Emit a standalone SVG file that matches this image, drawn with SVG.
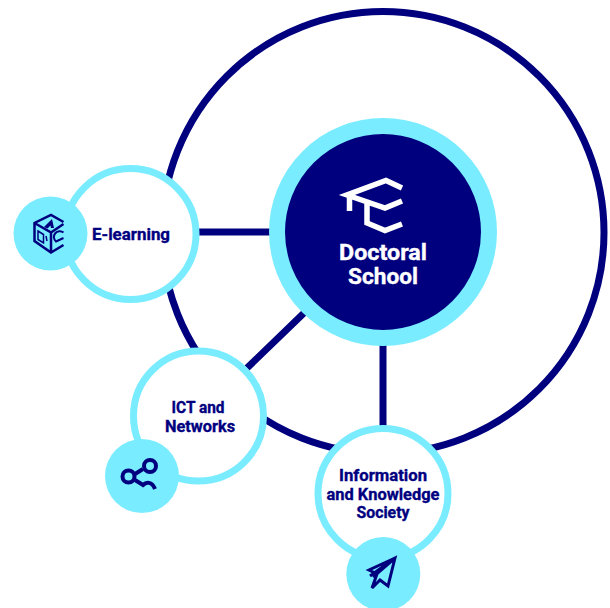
<svg xmlns="http://www.w3.org/2000/svg" width="610" height="608" viewBox="0 0 610 608">
<style>
.navy{fill:none;stroke:#00007f;stroke-width:7}
.sat{fill:#fff;stroke:#7aecff;stroke-width:7}
.badge{fill:#7aecff}
.ico{fill:none;stroke:#00007f;stroke-width:2.5;stroke-linejoin:miter}
text{font-family:Roboto,"Liberation Sans",sans-serif;font-weight:700;fill:#00007f;stroke:#00007f;stroke-width:.35;text-anchor:middle;font-size:16px}
text.big{font-size:22px;fill:#fff;stroke:#fff}
</style>
<g id="connectors">
<circle class="navy" cx="383" cy="232.5" r="221"/>
<path class="navy" d="M198 232H275M247 368L305 312M383 340V428"/>
</g>
<g id="doctoral-school">
<circle cx="383" cy="232" r="106" fill="#00007f" stroke="#7aecff" stroke-width="16"/>
<path d="M402 188L386 180.500L347 195L385 208L402 201M349.500 195V211M367 204V223L385 230.500L402 224" fill="none" stroke="#fff" stroke-width="5.500"/>
<text class="big" x="383" y="260" textLength="88" lengthAdjust="spacingAndGlyphs">Doctoral</text>
<text class="big" x="383" y="284" textLength="70" lengthAdjust="spacingAndGlyphs">School</text>
</g>
<g id="e-learning">
<circle class="sat" cx="130.500" cy="234" r="65.500"/>
<circle class="badge" cx="50.500" cy="233.500" r="37"/>
<path class="ico" d="M63.500 222L51 215L34.500 223V241L51 252.500L63.500 245M34.500 223L51 232.500V252.500M51 232.500L63.500 224"/>
<path d="M44 227L52 219L54 228L51 228L50.500 225.500L47.500 228.500Z" fill="#00007f"/>
<path d="M38 231L43.500 234.500V243L38 239.500Z" class="ico" style="stroke-width:1.500"/>
<path d="M46 236L47 241" class="ico" style="stroke-width:1.500"/>
<path d="M63.500 232.500A5 5 0 0 0 56 241.500L63.500 238" class="ico" style="stroke-width:2"/>
<text x="131" y="240" textLength="78" lengthAdjust="spacingAndGlyphs">E-learning</text>
</g>
<g id="ict-networks">
<circle class="sat" cx="198.500" cy="416" r="65"/>
<circle class="badge" cx="142" cy="476" r="37"/>
<path d="M135 474L143 469M135 480L143 485C146 482 152 481 155 489" fill="none" stroke="#00007f" stroke-width="4"/>
<circle cx="128.500" cy="476.500" r="6" fill="none" stroke="#00007f" stroke-width="4"/>
<circle cx="150" cy="466" r="6" fill="none" stroke="#00007f" stroke-width="4"/>
<text x="198" y="412.500" textLength="53" lengthAdjust="spacingAndGlyphs">ICT and</text>
<text x="200" y="431.500" textLength="70" lengthAdjust="spacingAndGlyphs">Networks</text>
</g>
<g id="information-knowledge">
<circle class="sat" cx="383" cy="493.500" r="65"/>
<circle class="badge" cx="383.300" cy="574" r="37"/>
<path d="M395 558L369 570L377 574L372 588L380 580L388 586ZM395 558L373 577M395 558L370 576" fill="none" stroke="#00007f" stroke-width="3"/>
<text x="383" y="481" textLength="88" lengthAdjust="spacingAndGlyphs">Information</text>
<text x="383" y="499.500" textLength="113" lengthAdjust="spacingAndGlyphs">and Knowledge</text>
<text x="383" y="518" textLength="53" lengthAdjust="spacingAndGlyphs">Society</text>
</g>
</svg>
